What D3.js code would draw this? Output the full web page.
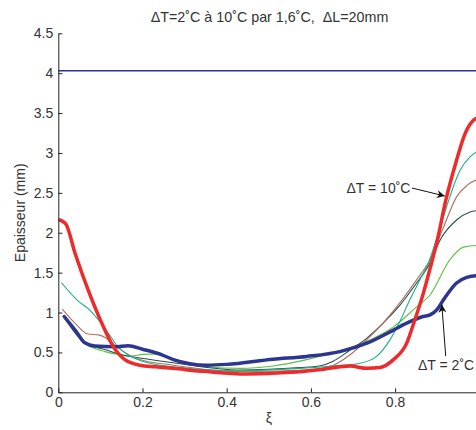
<!DOCTYPE html>
<html><head><meta charset="utf-8">
<script src="https://cdn.jsdelivr.net/npm/d3@7"></script>
<style>
body{margin:0;background:#fff;}
svg{display:block;font-family:"Liberation Sans",Arial,sans-serif;}
</style></head>
<body>
<svg id="c" width="476" height="430"></svg>
<script>
// ---- data ----
const titleText = "ΔT=2˚C à 10˚C par 1,6˚C,  ΔL=20mm";
const xTicks = [0, 0.2, 0.4, 0.6, 0.8, 1];
const yTicks = [0, 0.5, 1, 1.5, 2, 2.5, 3, 3.5, 4, 4.5];
const refLevel = 4.03;

const dT2_x = [0.014,0.04,0.063,0.087,0.135,0.166,0.2,0.246,0.273,0.352,0.4,0.51,0.59,0.669,0.733,0.796,0.835,0.867,0.883,0.9,0.915,0.946,0.97,0.992,1.0];
const dT2_y = [0.95,0.78,0.62,0.58,0.57,0.585,0.54,0.47,0.41,0.34,0.35,0.415,0.45,0.51,0.615,0.78,0.885,0.95,0.97,1.04,1.16,1.37,1.44,1.46,1.46];

const dT36_x = [0.014,0.063,0.111,0.147,0.174,0.2,0.234,0.26,0.352,0.432,0.51,0.59,0.669,0.733,0.796,0.851,0.883,0.93,0.962,0.992,1.0];
const dT36_y = [0.93,0.615,0.51,0.47,0.455,0.475,0.48,0.44,0.32,0.30,0.33,0.41,0.52,0.64,0.82,1.07,1.22,1.66,1.82,1.84,1.84];

const dT52_x = [0.014,0.063,0.115,0.15,0.194,0.273,0.432,0.574,0.62,0.653,0.693,0.733,0.772,0.811,0.851,0.883,0.907,0.946,0.978,1.0];
const dT52_y = [0.94,0.62,0.53,0.47,0.43,0.37,0.28,0.31,0.33,0.39,0.53,0.68,0.87,1.09,1.37,1.62,1.91,2.16,2.26,2.28];

const dT68_x = [0.01,0.04,0.071,0.095,0.119,0.139,0.194,0.273,0.432,0.59,0.653,0.693,0.733,0.772,0.811,0.851,0.883,0.915,0.946,0.97,0.992,1.0];
const dT68_y = [1.04,0.865,0.73,0.72,0.66,0.57,0.41,0.34,0.26,0.28,0.34,0.47,0.66,0.87,1.12,1.41,1.66,2.07,2.45,2.59,2.66,2.67];

const dT84_x = [0.008,0.048,0.071,0.095,0.119,0.139,0.194,0.273,0.432,0.574,0.653,0.717,0.756,0.788,0.811,0.835,0.859,0.879,0.907,0.93,0.954,0.978,0.992,1.0];
const dT84_y = [1.37,1.14,1.05,0.91,0.74,0.59,0.40,0.32,0.27,0.30,0.33,0.365,0.45,0.66,0.885,1.16,1.41,1.62,2.07,2.45,2.78,2.95,3.01,3.03];

const dT10_x = [0.004,0.018,0.04,0.071,0.103,0.131,0.158,0.194,0.23,0.272,0.352,0.447,0.55,0.63,0.693,0.733,0.764,0.796,0.827,0.847,0.867,0.883,0.9,0.92,0.946,0.966,0.986,1.0];
const dT10_y = [2.16,2.11,1.74,1.28,0.87,0.57,0.41,0.34,0.32,0.30,0.26,0.23,0.25,0.29,0.33,0.30,0.31,0.41,0.61,0.91,1.24,1.55,1.9,2.4,2.91,3.24,3.41,3.45];

const series = [
  {x: dT36_x, y: dT36_y, color: "#5cc23e", w: 1.1},
  {x: dT52_x, y: dT52_y, color: "#24504b", w: 1.1},
  {x: dT68_x, y: dT68_y, color: "#b0705c", w: 1.1},
  {x: dT84_x, y: dT84_y, color: "#17b08c", w: 1.1},
  {x: dT2_x,  y: dT2_y,  color: "#2d3591", w: 3.5},
  {x: dT10_x, y: dT10_y, color: "#ee2a2a", w: 3.5}
];

// ---- layout ----
const svg = d3.select("#c");
const L = 58.3, R = 479.3, T = 33.3, B = 392.3;
const x = d3.scaleLinear().domain([0,1]).range([L,R]);
const y = d3.scaleLinear().domain([0,4.5]).range([B,T]);
const textCol = "#333";
const fs = 14;

svg.append("defs").append("marker")
  .attr("id","ah").attr("viewBox","0 0 10 10").attr("refX",10).attr("refY",5)
  .attr("markerWidth",11).attr("markerHeight",8).attr("markerUnits","userSpaceOnUse")
  .attr("orient","auto")
  .append("path").attr("d","M0,0 L10,5 L0,10 L3,5 Z").attr("fill","#111");

// reference line
svg.append("line").attr("x1",x(0)).attr("x2",x(1)).attr("y1",y(refLevel)).attr("y2",y(refLevel))
  .attr("stroke","#2d3591").attr("stroke-width",1.6);

const line = d3.line().x(d=>x(d[0])).y(d=>y(d[1])).curve(d3.curveMonotoneX);
series.forEach(s=>{
  const pts = s.x.map((v,i)=>[v,s.y[i]]);
  svg.append("path").attr("d",line(pts)).attr("fill","none")
    .attr("stroke",s.color).attr("stroke-width",s.w).attr("stroke-linejoin","round").attr("stroke-linecap","round");
});

// axes
const ax = svg.append("g").attr("transform",`translate(0,${B})`)
  .call(d3.axisBottom(x).tickValues(xTicks).tickFormat(d=>d===0||d===1?String(d):d3.format(".1f")(d)).tickSizeInner(-4).tickSizeOuter(0).tickPadding(5));
const ay = svg.append("g").attr("transform",`translate(${L},0)`)
  .call(d3.axisLeft(y).tickValues(yTicks).tickFormat(d=>String(d)).tickSizeInner(-4).tickSizeOuter(0).tickPadding(5));
[ax,ay].forEach(g=>{
  g.selectAll("path.domain").attr("stroke","#222");
  g.selectAll(".tick line").attr("stroke","#222");
  g.selectAll("text").attr("fill",textCol).attr("font-size",fs).attr("font-family","Liberation Sans, Arial, sans-serif");
});

// title and labels
svg.append("text").attr("x",269.5).attr("y",21.5).attr("text-anchor","middle")
  .attr("font-size",14.3).attr("fill",textCol).style("white-space","pre").text(titleText);
svg.append("text").attr("x",268.8).attr("y",423).attr("text-anchor","middle")
  .attr("font-size",fs).attr("fill",textCol).text("ξ");
svg.append("text").attr("transform","translate(25,212.8) rotate(-90)").attr("text-anchor","middle")
  .attr("font-size",fs).attr("fill",textCol).text("Epaisseur (mm)");

// annotations
svg.append("text").attr("x",346.5).attr("y",193).attr("font-size",fs).attr("fill",textCol).text("ΔT = 10˚C");
svg.append("line").attr("x1",412).attr("y1",188).attr("x2",x(0.918)).attr("y2",y(2.46))
  .attr("stroke","#111").attr("stroke-width",1).attr("marker-end","url(#ah)");
svg.append("text").attr("x",418).attr("y",370).attr("font-size",fs).attr("fill",textCol).text("ΔT = 2˚C");
svg.append("line").attr("x1",445.7).attr("y1",356).attr("x2",x(0.911)).attr("y2",y(1.1))
  .attr("stroke","#111").attr("stroke-width",1).attr("marker-end","url(#ah)");
</script>
</body></html>
